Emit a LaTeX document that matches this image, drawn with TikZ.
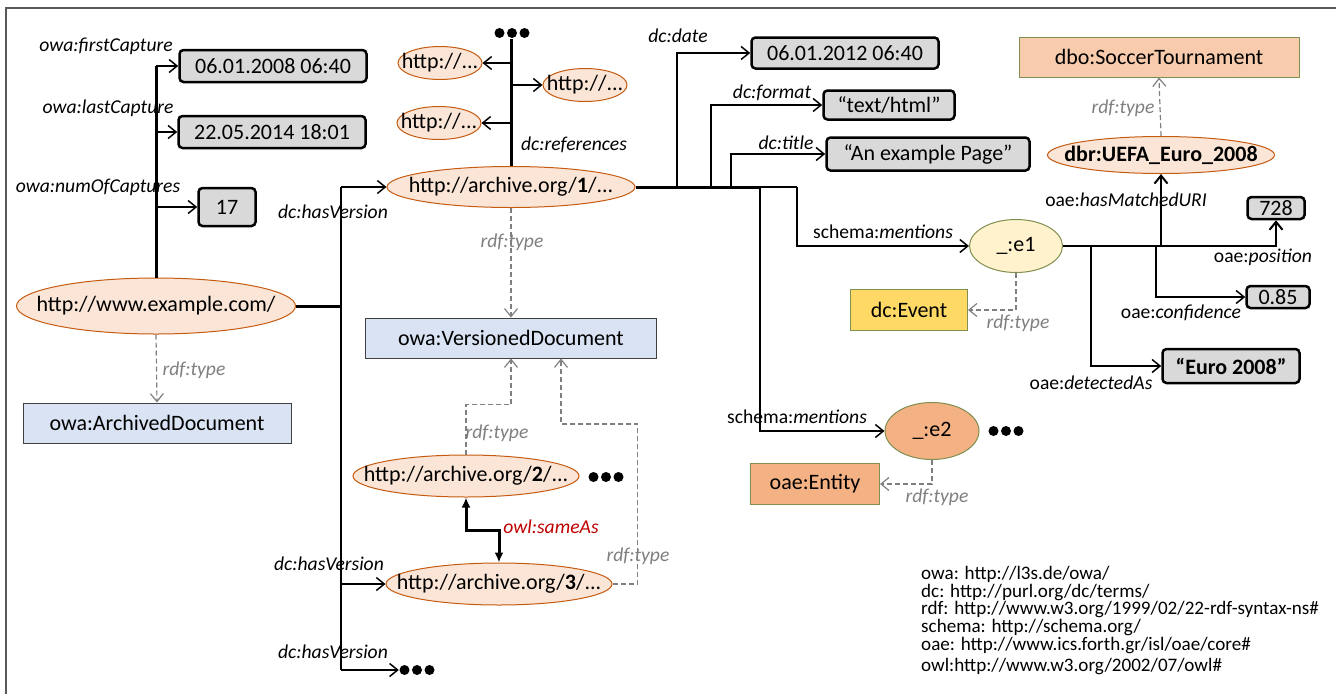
\documentclass[tikz,border=0pt]{standalone}
\usepackage{fontspec}
\setmainfont{Carlito}
\usetikzlibrary{arrows.meta,positioning,calc,shapes.geometric}
\definecolor{UriFill}{HTML}{FBE5D6}
\definecolor{UriLine}{HTML}{C55A11}
\definecolor{LitFill}{HTML}{D9D9D9}
\definecolor{ClsFill}{HTML}{DAE3F3}
\definecolor{ClsLine}{HTML}{404040}
\definecolor{OliveLine}{HTML}{7F8F4F}
\definecolor{TourFill}{HTML}{F8CBAD}
\definecolor{EvtFill}{HTML}{FFD966}
\definecolor{EntFill}{HTML}{F4B183}
\definecolor{MenFill}{HTML}{FFF2CC}
\definecolor{TypeGray}{HTML}{7F7F7F}
\definecolor{SameRed}{HTML}{C00000}
\definecolor{FrameGray}{HTML}{595959}
\newcommand{\nodefont}{\fontsize{22}{26}\selectfont}
\newcommand{\labfont}{\fontsize{19.6}{22}\selectfont}
\newcommand{\fitin}[1]{\makebox[0pt]{#1}}

\begin{document}
\begin{tikzpicture}[x=1pt, y=-1pt,
    sz/.style 2 args={minimum width=#1pt, minimum height=#2pt},
    uri/.style={ellipse, draw=UriLine, fill=UriFill, line width=1pt, inner sep=0pt, font=\nodefont},
    blank/.style={ellipse, draw=OliveLine, line width=1pt, inner sep=0pt, font=\nodefont},
    lit/.style={rectangle, rounded corners=4pt, draw=black, line width=2.5pt, fill=LitFill, inner sep=0pt, font=\nodefont},
    cls/.style={rectangle, draw=ClsLine, line width=1pt, fill=ClsFill, inner sep=0pt, font=\nodefont},
    ent/.style={rectangle, draw=OliveLine, line width=1pt, inner sep=0pt, font=\nodefont},
    more/.style={inner sep=0pt, minimum width=36pt, minimum height=11pt,
        path picture={\foreach \k in {-1,0,1} \fill ([xshift=\k*12.5pt]path picture bounding box.center) circle (5pt);}},
    lab/.style={inner sep=0pt, font=\labfont},
    tlab/.style={inner sep=0pt, font=\labfont\itshape, text=TypeGray},
    arr/.style={-{Straight Barb[length=8pt,width=13pt]}, line width=1.5pt},
    trunk/.style={line width=3pt},
    bus/.style={line width=1.5pt},
    typ/.style={-{Straight Barb[length=8pt,width=13pt]}, dashed, dash pattern=on 5pt off 3pt, line width=1.2pt, draw=TypeGray},
    same/.style={{Latex[length=10pt,width=9pt]}-{Latex[length=10pt,width=9pt]}, line width=3pt}
]
\useasboundingbox (0,0) rectangle (1336,694);
\draw[FrameGray, line width=1.5pt] (6,694) |- (1336,8);

% the archived page and its captures
\node[uri, sz={279}{56}] (example) at (156,306) {\fitin{http://www.example.com/}};
\node[lit, sz={187}{32}] (first) at (273,66) {06.01.2008 06:40};
\node[lit, sz={187}{32}] (last) at (272,132) {22.05.2014 18:01};
\node[lit, sz={57}{38}] (num) at (227,207) {17};
\node[cls, sz={268}{40}] (archdoc) at (157,423) {owa:ArchivedDocument};

\draw[trunk] (example.north) -- (example.north |- first.west);
\draw[arr] (example.north |- first.west) -- (first.west);
\draw[arr] (example.north |- last.west) -- (last.west);
\draw[arr] (example.north |- num.west) -- (num.west);
\draw[typ] (example.south) -- (archdoc.north);

\node[lab, font=\labfont\itshape] (lfirst) at (106,46) {owa:firstCapture};
\node[lab, font=\labfont\itshape] (llast) at (108,108) {owa:lastCapture};
\node[lab, font=\labfont\itshape] (lnum) at (98,187) {owa:numOfCaptures};
\node[tlab] (tarch) at (194,370) {rdf:type};

% versions
\node[uri, sz={248}{41}] (v1) at (511,187) {\fitin{http://archive.org/\textbf{1}/...}};
\node[uri, sz={226}{42}] (v2) at (466,476) {\fitin{http://archive.org/\textbf{2}/...}};
\node[uri, sz={226}{42}] (v3) at (499,584) {\fitin{http://archive.org/\textbf{3}/...}};
\node[more] (v2more) at (606,477) {};
\node[more] (vmore) at (417,670) {};
\node[cls, sz={291}{40}] (verdoc) at (511,338) {owa:VersionedDocument};

\coordinate (vbus) at (341,306);
\draw[trunk] (example.east) -- (vbus);
\draw[bus] (vbus |- v1.west) -- (vbus |- vmore.west);
\draw[arr] (vbus |- v1.west) -- (v1.west);
\draw[arr] (vbus |- v3.west) -- (v3.west);
\draw[arr] (vbus |- vmore.west) -- (vmore.west);

\node[lab, font=\labfont\itshape] (lver1) at (333,212) {dc:hasVersion};
\node[lab, font=\labfont\itshape] (lver3) at (329,564) {dc:hasVersion};
\node[lab, font=\labfont\itshape] (lvern) at (333,652) {dc:hasVersion};

\draw[typ] (v1.south) -- (verdoc.north);
\draw[typ] (v2.north) -- ++(0,-50) -| (verdoc.south);
\draw[typ] (v3.east) -- ++(25,0) -- ++(0,-160) -| ($(verdoc.south)+(50,0)$);
\draw[same] (v2.south) -- ++(0,33) -| (v3.north);

\node[tlab] (tv1) at (512,242) {rdf:type};
\node[tlab] (tv2) at (497,433) {rdf:type};
\node[tlab] (tv3) at (638,556) {rdf:type};
\node[lab, font=\labfont\itshape, text=SameRed] (lsame) at (551,527) {owl:sameAs};

% references of version 1
\node[uri, sz={84}{33}] (ref1) at (440,63) {\fitin{http://...}};
\node[uri, sz={84}{33}] (ref2) at (585,85) {\fitin{http://...}};
\node[uri, sz={84}{33}] (ref3) at (439,123) {\fitin{http://...}};
\node[more] (refmore) at (512,33) {};

\draw[trunk] (v1.north) -- (v1.north |- refmore.south);
\draw[arr] (v1.north |- ref1.east) -- (ref1.east);
\draw[arr] (v1.north |- ref2.west) -- (ref2.west);
\draw[arr] (v1.north |- ref3.east) -- (ref3.east);
\node[lab, font=\labfont\itshape] (lref) at (574,145) {dc:references};

% properties of version 1
\node[lit, sz={187}{31}] (date) at (845,53) {06.01.2012 06:40};
\node[lit, sz={131}{29}] (format) at (889,105) {“text/html”};
\node[lit, sz={203}{33}] (title) at (928,154) {“An example Page”};

\coordinate (jbus) at (760,187);
\coordinate (jdate) at (677,187);
\coordinate (jformat) at (711,187);
\coordinate (jtitle) at (731,187);
\coordinate (jment) at (797,187);
\draw[trunk] (v1.east) -- (jbus);
\draw[arr] (jdate) |- (date.west);
\draw[arr] (jformat) |- (format.west);
\draw[arr] (jtitle) |- (title.west);

\node[lab, font=\labfont\itshape] (ldate) at (678,36) {dc:date};
\node[lab, font=\labfont\itshape] (lformat) at (772,93) {dc:format};
\node[lab, font=\labfont\itshape] (ltitle) at (786,143) {dc:title};

% entity mentions
\node[blank, fill=MenFill, sz={93}{53}] (e1) at (1016,246) {\_:e1};
\node[blank, fill=EntFill, sz={94}{57}] (e2) at (932,431) {\_:e2};
\node[more] (e2more) at (1006,431) {};
\node[ent, fill=EvtFill, sz={117}{41}] (event) at (909,310) {dc:Event};
\node[ent, fill=EntFill, sz={129}{41}] (entity) at (815,484) {oae:Entity};

\draw[bus] (jbus) -- (jment);
\draw[arr] (jment) |- (e1.west);
\draw[arr] (jbus) |- (e2.west);
\draw[typ] (e1.south) |- (event.east);
\draw[typ] (e2.south) |- (entity.east);

\node[lab] (lment1) at (883,232) {schema:\textit{mentions}};
\node[lab] (lment2) at (797,417) {schema:\textit{mentions}};
\node[tlab] (te1) at (1018,323) {rdf:type};
\node[tlab] (te2) at (937,497) {rdf:type};

% properties of the first mention
\node[uri, sz={227}{37}] (dbr) at (1161,155) {\fitin{\textbf{dbr:UEFA\_Euro\_2008}}};
\node[ent, fill=TourFill, sz={280}{40}] (soccer) at (1159,57) {dbo:SoccerTournament};
\node[lit, sz={57}{22}] (pos) at (1276,208) {728};
\node[lit, sz={63}{22}] (conf) at (1278,297) {0.85};
\node[lit, sz={137}{34}] (euro) at (1231,366) {\textbf{“Euro 2008”}};

\coordinate (jconf) at (1156,246);
\coordinate (jdet) at (1091,246);
\draw[arr, line width=2pt] (e1.east) -| (pos.south);
\draw[arr, line width=2pt] (e1.east -| dbr.south) -- (dbr.south);
\draw[arr] (jconf) |- (conf.west);
\draw[arr] (jdet) |- (euro.west);
\draw[typ] (dbr.north) -- (soccer.south);

\node[lab] (lmatch) at (1126,200) {oae:\textit{hasMatchedURI}};
\node[lab] (lpos) at (1263,257) {oae:\textit{position}};
\node[lab] (lconf) at (1181,313) {oae:\textit{confidence}};
\node[lab] (ldet) at (1091,383) {oae:\textit{detectedAs}};
\node[tlab] (tdbr) at (1123,108) {rdf:type};

% prefixes
\node[inner sep=0pt, anchor=north west, align=left, font=\fontsize{19.1}{17.7}\selectfont] (prefixes) at (921,566)
  {owa: http://l3s.de/owa/\\
   dc: http://purl.org/dc/terms/\\
   rdf: http://www.w3.org/1999/02/22-rdf-syntax-ns\#\\
   schema: http://schema.org/\\
   oae: http://www.ics.forth.gr/isl/oae/core\#\\[3.5pt]
   owl:http://www.w3.org/2002/07/owl\#};
\end{tikzpicture}
\end{document}
